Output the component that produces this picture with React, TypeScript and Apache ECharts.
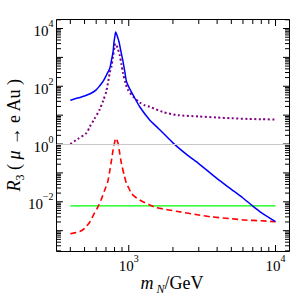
import React, { useEffect, useRef } from "react";
import * as echarts from "echarts";

// ---- data ----
const blueData: [number, number][] = [
  [400, 33], [450, 39], [500, 46], [550, 56], [600, 75], [635, 105], [670, 150], [705, 245],
  [743, 420], [763, 800], [782, 1550], [794, 3500], [805, 5500], [815, 7600], [835, 5500],
  [859, 3400], [885, 1600], [915, 700], [940, 320], [964, 150], [1000, 95], [1070, 50],
  [1188, 19.5], [1389, 6.8], [1600, 3.4], [2000, 1.1], [2500, 0.42], [3000, 0.21],
  [4000, 0.063], [5000, 0.027], [6000, 0.0135], [7000, 0.0071], [8000, 0.0042], [10000, 0.00204],
];
const purpleData: [number, number][] = [
  [400, 1.0], [450, 1.5], [515, 2.4], [543, 4], [580, 7], [635, 16], [670, 32], [705, 70],
  [743, 300], [763, 480], [782, 1100], [800, 2200], [812, 3000], [825, 2700], [845, 1900],
  [868, 1200], [890, 600], [915, 280], [950, 130], [989, 74], [1070, 44], [1188, 27.5],
  [1285, 22], [1389, 19.5], [1700, 13], [2155, 10], [3000, 9], [3970, 8.3], [5000, 7.8],
  [6500, 7.4], [8000, 7.2], [10000, 7.1],
];
const redData: [number, number][] = [
  [400, 7.8e-4], [464, 9.3e-4], [500, 1.2e-3], [543, 2e-3], [580, 3.8e-3], [618, 6.8e-3],
  [650, 0.012], [687, 0.026], [720, 0.05], [743, 0.12], [765, 0.3], [782, 0.62], [800, 1.1],
  [816, 1.58], [830, 1.4], [846, 1.05], [870, 0.45], [892, 0.21], [930, 0.085], [964, 0.044],
  [1000, 0.03], [1043, 0.0195], [1100, 0.015], [1188, 0.0115], [1389, 0.0078], [1544, 0.0063],
  [2165, 0.0046], [3000, 0.0035], [3656, 0.003], [5000, 0.0026], [6150, 0.00234], [8000, 0.0022],
  [10000, 0.00204],
];
const greenData: [number, number][] = [[400, 0.0072], [10000, 0.0072]];
const refLineValue = 1;

const X_MIN = 322;
const X_MAX = 12450;
const Y_MIN = 1.9e-4;
const Y_MAX = 2.05e4;

const xMajorTicks = [1000, 10000];
const xMinorTicks = [400, 500, 600, 700, 800, 900, 2000, 3000, 4000, 5000, 6000, 7000, 8000, 9000];
const yDecades = [-4, -3, -2, -1, 0, 1, 2, 3, 4];
const yMultipliers = [2, 3, 4, 5, 6, 7, 8, 9];

const FONT = "Liberation Serif";

function expOf(v: number): number | null {
  const l = Math.log10(v);
  const r = Math.round(l);
  return Math.abs(l - r) < 1e-6 ? r : null;
}

export default function App() {
  const ref = useRef<HTMLDivElement>(null);
  useEffect(() => {
    if (!ref.current) return;
    const chart = echarts.init(ref.current, undefined, { renderer: "svg" });

    const xTickData: number[][] = [];
    xMajorTicks.forEach((v) => xTickData.push([v, 1, 1]));
    xMinorTicks.forEach((v) => xTickData.push([v, 1, 0]));
    const yTickData: number[][] = [];
    yDecades.forEach((d) => {
      const base = Math.pow(10, d);
      if (base >= Y_MIN && base <= Y_MAX) yTickData.push([1000, base, 1]);
      yMultipliers.forEach((m) => {
        const v = m * base;
        if (v >= Y_MIN && v <= Y_MAX) yTickData.push([1000, v, 0]);
      });
    });

    const rich = {
      b: { fontFamily: FONT, fontSize: 15, color: "#000", verticalAlign: "top", padding: [5, 0, 0, 0] },
      s: { fontFamily: FONT, fontSize: 10, color: "#000", verticalAlign: "top" },
    };
    const fmt = (onlyEven: boolean) => (v: number) => {
      const e = expOf(v);
      if (e === null) return "";
      if (onlyEven && e % 2 !== 0) return "";
      const es = e < 0 ? "\u2212" + Math.abs(e) : String(e);
      return `{b|10}{s|${es}}`;
    };

    const tickStyle = { stroke: "#000", lineWidth: 1 };

    chart.setOption({
      animation: false,
      grid: { left: 56.5, right: 1.5, top: 19.5, bottom: 45.5, show: true, borderColor: "#000", borderWidth: 1, backgroundColor: "transparent" },
      xAxis: {
        type: "log", logBase: 10, min: X_MIN, max: X_MAX,
        axisLine: { show: false }, axisTick: { show: false }, splitLine: { show: false },
        axisLabel: { formatter: fmt(false), rich, margin: 2, showMinLabel: false, showMaxLabel: false },
      },
      yAxis: {
        type: "log", logBase: 10, min: Y_MIN, max: Y_MAX,
        axisLine: { show: false }, axisTick: { show: false }, splitLine: { show: false },
        axisLabel: { formatter: fmt(true), rich, margin: 3, showMinLabel: false, showMaxLabel: false },
      },
      series: [
        {
          type: "line", data: greenData, showSymbol: false, symbol: "none",
          lineStyle: { color: "#00ff00", width: 1.3 },
          markLine: {
            silent: true, symbol: "none", label: { show: false },
            lineStyle: { color: "#c8c8c8", width: 1, type: "solid" },
            data: [{ yAxis: refLineValue }],
          },
        },
        {
          type: "line", data: purpleData, showSymbol: false, symbol: "none", smooth: 0.25,
          lineStyle: { color: "#800080", width: 2, type: [2, 2.5] },
        },
        {
          type: "line", data: redData, showSymbol: false, symbol: "none", smooth: 0.25,
          lineStyle: { color: "#ff0000", width: 1.6, type: [6, 3.5] },
        },
        {
          type: "line", data: blueData, showSymbol: false, symbol: "none", smooth: 0.25,
          lineStyle: { color: "#0000ff", width: 1.5 },
        },
        {
          type: "custom", silent: true, clip: false, encode: { x: 0, y: 1 }, data: xTickData,
          renderItem: (_p: any, api: any) => {
            const v = api.value(0);
            const len = api.value(2) ? 6.5 : 4.5;
            const b = api.coord([v, Y_MIN]);
            const t = api.coord([v, Y_MAX]);
            return {
              type: "group",
              children: [
                { type: "line", shape: { x1: b[0], y1: b[1], x2: b[0], y2: b[1] - len }, style: tickStyle },
                { type: "line", shape: { x1: t[0], y1: t[1], x2: t[0], y2: t[1] + len }, style: tickStyle },
              ],
            };
          },
        },
        {
          type: "custom", silent: true, clip: false, encode: { x: 0, y: 1 }, data: yTickData,
          renderItem: (_p: any, api: any) => {
            const v = api.value(1);
            const len = api.value(2) ? 6.5 : 4.5;
            const l = api.coord([X_MIN, v]);
            const r = api.coord([X_MAX, v]);
            return {
              type: "group",
              children: [
                { type: "line", shape: { x1: l[0], y1: l[1], x2: l[0] + len, y2: l[1] }, style: tickStyle },
                { type: "line", shape: { x1: r[0], y1: r[1], x2: r[0] - len, y2: r[1] }, style: tickStyle },
              ],
            };
          },
        },
      ],
      graphic: [
        {
          type: "text", x: 172, y: 284,
          style: {
            text: "{i|m}{sub| N}{n|/GeV}",
            align: "center", verticalAlign: "middle",
            rich: {
              i: { fontFamily: FONT, fontSize: 18, fontStyle: "italic", color: "#000", verticalAlign: "top", padding: [0, 0, 3, 0] },
              sub: { fontFamily: FONT, fontSize: 12, fontStyle: "italic", color: "#000", verticalAlign: "bottom" },
              n: { fontFamily: FONT, fontSize: 18, color: "#000", verticalAlign: "top", padding: [0, 0, 3, 0] },
            },
          },
        },
        {
          type: "text", x: 15, y: 135, rotation: Math.PI / 2,
          style: {
            text: "{i|R}{sub|3}{n| ( }{i|\u03bc}{n| \u2192 e Au )}",
            align: "center", verticalAlign: "middle",
            rich: {
              i: { fontFamily: FONT, fontSize: 18, fontStyle: "italic", color: "#000", verticalAlign: "top", padding: [0, 0, 3, 0] },
              sub: { fontFamily: FONT, fontSize: 12, color: "#000", verticalAlign: "bottom" },
              n: { fontFamily: FONT, fontSize: 18, color: "#000", verticalAlign: "top", padding: [0, 0, 3, 0] },
            },
          },
        },
      ],
    });
    return () => chart.dispose();
  }, []);
  return <div ref={ref} style={{ width: 291, height: 297, position: "absolute", left: 0, top: 0 }} />;
}
